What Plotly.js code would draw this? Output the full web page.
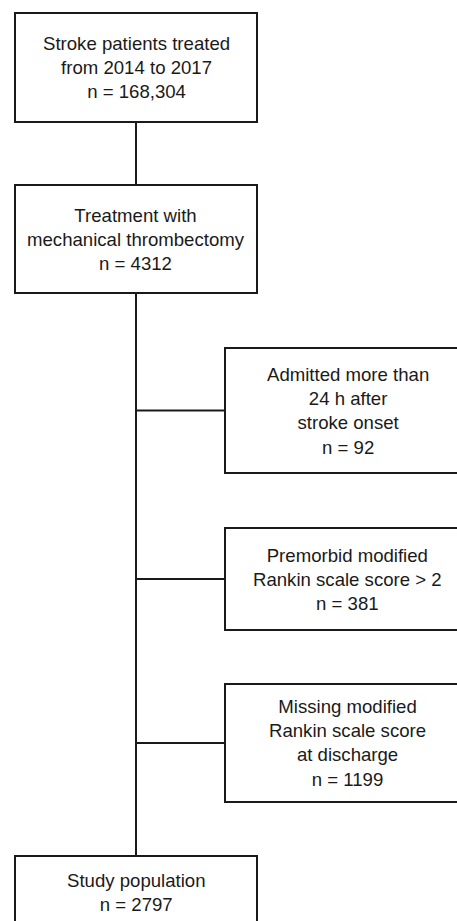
<!DOCTYPE html>
<html>
<head>
<meta charset="utf-8">
<script src="https://cdn.plot.ly/plotly-3.0.1.min.js"></script>
<style>html,body{margin:0;padding:0;background:#fff;}#chart{width:457px;height:921px;}</style>
</head>
<body>
<div id="chart"></div>
<script>
// ---- data ----
const stepLabels = ["Stroke patients treated<br>from 2014 to 2017", "Treatment with<br>mechanical thrombectomy", "Study population"];
const stepCounts = [168304, 4312, 2797];
const exclusionLabels = ["Admitted more than<br>24 h after<br>stroke onset", "Premorbid modified<br>Rankin scale score > 2", "Missing modified<br>Rankin scale score<br>at discharge"];
const exclusionCounts = [92, 381, 1199];

// ---- geometry (layout only) ----
const stepBoxes = [ {x0:15, x1:257, y0:13, y1:122}, {x0:15, x1:257, y0:185, y1:293}, {x0:15, x1:257, y0:856, y1:940} ];
const stepTextY = [67.5, 239.5, 892];
const exclBoxes = [ {x0:225, x1:470, y0:348, y1:473}, {x0:225, x1:470, y0:528, y1:630}, {x0:225, x1:470, y0:684, y1:802} ];
const spineX = 136;
const lineColor = "#1a1a1a";
const lw = 2;

function fmt(n){ return n >= 10000 ? n.toLocaleString("en-US") : String(n); }

const shapes = [];
const annotations = [];
const font = {family: "Liberation Sans, Arial, Helvetica, sans-serif", size: 18.6, color: "#1a1a1a"};

stepBoxes.forEach((b, i) => {
  shapes.push({type:"rect", xref:"x", yref:"y", x0:b.x0, x1:b.x1, y0:b.y0, y1:b.y1, line:{color:lineColor, width:lw}, fillcolor:"rgba(0,0,0,0)"});
  annotations.push({xref:"x", yref:"y", x:(b.x0+b.x1)/2, y:stepTextY[i], text: stepLabels[i] + "<br>n = " + fmt(stepCounts[i]), showarrow:false, font:font, xanchor:"center", yanchor:"middle", align:"center"});
});
exclBoxes.forEach((b, i) => {
  shapes.push({type:"rect", xref:"x", yref:"y", x0:b.x0, x1:b.x1, y0:b.y0, y1:b.y1, line:{color:lineColor, width:lw}, fillcolor:"rgba(0,0,0,0)"});
  const cy = (b.y0+b.y1)/2;
  shapes.push({type:"line", xref:"x", yref:"y", x0:spineX, x1:b.x0, y0:cy, y1:cy, line:{color:lineColor, width:lw}});
  annotations.push({xref:"x", yref:"y", x:(b.x0+b.x1)/2, y:cy, text: exclusionLabels[i] + "<br>n = " + fmt(exclusionCounts[i]), showarrow:false, font:font, xanchor:"center", yanchor:"middle", align:"center"});
});
// connectors along the spine
shapes.push({type:"line", xref:"x", yref:"y", x0:spineX, x1:spineX, y0:stepBoxes[0].y1, y1:stepBoxes[1].y0, line:{color:lineColor, width:lw}});
shapes.push({type:"line", xref:"x", yref:"y", x0:spineX, x1:spineX, y0:stepBoxes[1].y1, y1:stepBoxes[2].y0, line:{color:lineColor, width:lw}});

const layout = {
  width: 457, height: 921,
  margin: {l:0, r:0, t:0, b:0},
  paper_bgcolor: "#ffffff", plot_bgcolor: "#ffffff",
  xaxis: {range:[0,457], visible:false, fixedrange:true},
  yaxis: {range:[921,0], visible:false, fixedrange:true},
  showlegend: false,
  shapes: shapes,
  annotations: annotations
};
Plotly.newPlot("chart", [], layout, {staticPlot:true, displayModeBar:false});
</script>
</body>
</html>
